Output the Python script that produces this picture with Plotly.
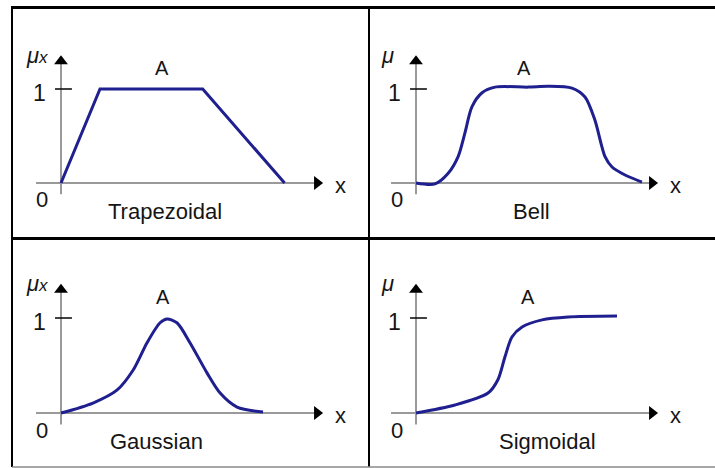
import plotly.graph_objects as go

# ---------------- data (x in arbitrary units, mu in 0..1) ----------------
trap_x = [0, 1.5, 5.45, 8.6]
trap_mu = [0, 1.0, 1.0, 0]

bell_x = [0, 0.73, 1.23, 1.62, 1.88, 2.15, 2.54, 3.04, 4.31, 5.08, 6.0, 6.5, 6.88, 7.27, 7.54, 8.04, 8.69]
bell_mu = [0.0, -0.01, 0.10, 0.28, 0.53, 0.81, 0.96, 1.02, 1.02, 1.03, 1.01, 0.915, 0.67, 0.28, 0.17, 0.085, 0.01]

gauss_x = [0, 1.23, 2.15, 2.77, 3.31, 3.81, 4.08, 4.46, 4.96, 5.62, 6.12, 6.77, 7.77]
gauss_mu = [0.0, 0.105, 0.24, 0.45, 0.74, 0.95, 0.99, 0.95, 0.74, 0.42, 0.21, 0.063, 0.01]

sig_x = [0, 1.5, 2.77, 3.15, 3.42, 3.69, 4.08, 4.85, 5.85, 7.73]
sig_mu = [0.0, 0.084, 0.21, 0.35, 0.59, 0.80, 0.905, 0.98, 1.01, 1.02]

names = ["Trapezoidal", "Bell", "Gaussian", "Sigmoidal"]
ylabels = ["<i>μ</i><span style='font-size:17px'><i>x</i></span>", "<i>μ</i>",
           "<i>μ</i><span style='font-size:17px'><i>x</i></span>", "<i>μ</i>"]
curves = [(trap_x, trap_mu, "linear"), (bell_x, bell_mu, "spline"),
          (gauss_x, gauss_mu, "spline"), (sig_x, sig_mu, "spline")]

# ---------------- layout geometry (pixels) ----------------
W, H = 715, 468
UX = 26.0
panels = [
    dict(dom=(12, 369, 7, 238), o=(61, 183), uy=94, tip=10.08, nx=4.0, ax=3.88),
    dict(dom=(369, 715, 7, 238), o=(416, 183), uy=94, tip=9.31, nx=4.46, ax=4.15),
    dict(dom=(12, 369, 238, 467), o=(61, 413), uy=95, tip=10.08, nx=3.69, ax=3.92),
    dict(dom=(369, 715, 238, 467), o=(416, 413), uy=95, tip=9.31, nx=5.04, ax=4.31),
]

CURVE = "#1f1f8f"
AXIS = "#9a9a9a"
TXT = "#151515"
FONT = "Liberation Sans, Arial, sans-serif"

fig = go.Figure()
layout_axes = {}
shapes = []
annotations = []

for i, (p, (cx, cy, shp)) in enumerate(zip(panels, curves)):
    k = "" if i == 0 else str(i + 1)
    xa, ya = "x" + k, "y" + k
    x0, x1, y0, y1 = p["dom"]
    ox, oy = p["o"]
    uy = p["uy"]
    xr = [(x0 - ox) / UX, (x1 - ox) / UX]
    yr = [(oy - y1) / uy, (oy - y0) / uy]
    layout_axes["xaxis" + k] = dict(domain=[x0 / W, x1 / W], range=xr, visible=False,
                                    anchor=ya, fixedrange=True)
    layout_axes["yaxis" + k] = dict(domain=[1 - y1 / H, 1 - y0 / H], range=yr, visible=False,
                                    anchor=xa, fixedrange=True)

    # axis lines
    shapes.append(dict(type="line", xref=xa, yref=ya, x0=-0.96, x1=p["tip"] - 0.3, y0=0, y1=0,
                       line=dict(color=AXIS, width=2), layer="below"))
    shapes.append(dict(type="line", xref=xa, yref=ya, x0=0, x1=0, y0=-0.12, y1=1.28,
                       line=dict(color=AXIS, width=2), layer="below"))
    # tick at 1
    shapes.append(dict(type="line", xref=xa, yref=ya, x0=-0.23, x1=0.42, y0=1, y1=1,
                       line=dict(color="#111111", width=1.6)))

    # curve
    fig.add_trace(go.Scatter(x=cx, y=cy, mode="lines", xaxis=xa, yaxis=ya,
                             line=dict(color=CURVE, width=3, shape=shp, smoothing=0.8),
                             showlegend=False, hoverinfo="skip"))
    # arrow heads
    fig.add_trace(go.Scatter(x=[0, p["tip"] - 6 / UX], y=[1.36 - 6 / uy, 0],
                             mode="markers", xaxis=xa, yaxis=ya,
                             marker=dict(symbol=["triangle-up", "triangle-right"], size=12,
                                         color="#000000"),
                             showlegend=False, hoverinfo="skip"))

    def ann(x, y, text, size=20, **kw):
        d = dict(x=x, y=y, xref=xa, yref=ya, text=text, showarrow=False,
                 font=dict(family=FONT, size=size, color=TXT), xanchor="center", yanchor="middle")
        d.update(kw)
        annotations.append(d)

    ann(-0.92 if i % 2 == 0 else -1.08, 1.36, ylabels[i], size=22)
    ann(-0.84, 0.96, "1", size=23)
    ann(-0.74, -0.18, "0", size=22)
    ann(p["tip"] + 0.66, -0.03, "x", size=22)
    ann(p["ax"], 1.22, "A", size=20)
    ann(p["nx"], -0.30, names[i], size=22)

# frame lines (paper coords)
def px_line(x0, y0, x1, y1, color="#000000", width=2):
    shapes.append(dict(type="line", xref="paper", yref="paper",
                       x0=x0 / W, x1=x1 / W, y0=1 - y0 / H, y1=1 - y1 / H,
                       line=dict(color=color, width=width)))

px_line(11, 7.5, 715, 7.5, width=3)
px_line(12, 7, 12, 467, width=2)
px_line(369, 7, 369, 467, width=2)
px_line(11, 238.5, 715, 238.5, width=3)
px_line(12, 467, 715, 467, color="#8a8a8a", width=1.5)

fig.update_layout(width=W, height=H, margin=dict(l=0, r=0, t=0, b=0),
                  paper_bgcolor="white", plot_bgcolor="rgba(0,0,0,0)",
                  shapes=shapes, annotations=annotations, **layout_axes)

fig.write_html("out.html", config={"displayModeBar": False},
               post_script="document.body.style.margin='0';document.body.style.padding='0';")
